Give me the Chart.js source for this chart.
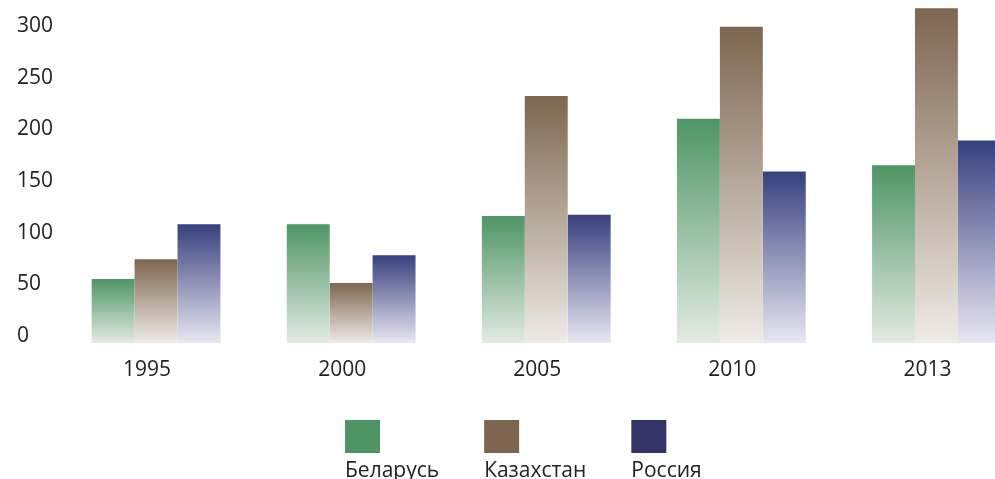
<!DOCTYPE html>
<html>
<head>
<meta charset="utf-8">
<script src="https://cdn.jsdelivr.net/npm/chart.js@4/dist/chart.umd.min.js"></script>
<style>
  html, body { margin: 0; padding: 0; background: #fff; overflow: hidden; }
  #wrap { position: relative; width: 1040px; height: 479px; }
</style>
</head>
<body>
<div id="wrap"><canvas id="c"></canvas></div>
<script>
const categories = ['1995', '2000', '2005', '2010', '2013'];
const seriesNames = ['Беларусь', 'Казахстан', 'Россия'];
const belarus = [62, 115, 123, 217, 172];
const kazakhstan = [81, 58, 239, 306, 324];
const russia = [115, 85, 124, 166, 196];
const yTicks = [0, 50, 100, 150, 200, 250, 300];

const topColors = ['#4f9565', '#7e6650', '#37407e'];
const bottomColors = ['#e3ebe3', '#efebe7', '#e9e7f3'];
const legendColors = ['#4e9465', '#7e664e', '#333366'];
const FONT = '"Open Sans", "Noto Sans", sans-serif';

function gradientFor(i) {
  return function (ctx) {
    const chart = ctx.chart;
    if (!chart.chartArea || ctx.type !== 'data') return topColors[i];
    const y = chart.scales.y;
    const v = ctx.raw;
    const top = y.getPixelForValue(v);
    const base = y.getPixelForValue(0);
    if (!isFinite(top) || !isFinite(base) || base - top < 1) return topColors[i];
    const g = chart.ctx.createLinearGradient(0, top, 0, base);
    g.addColorStop(0, topColors[i]);
    g.addColorStop(1, bottomColors[i]);
    return g;
  };
}

const legendPlugin = {
  id: 'boxAboveLegend',
  afterDraw(chart) {
    const c = chart.ctx;
    const base = chart.chartArea.bottom;
    c.save();
    c.font = '21px ' + FONT;
    c.textBaseline = 'alphabetic';
    c.textAlign = 'left';
    let x = 345;
    chart.data.datasets.forEach((ds, i) => {
      c.fillStyle = legendColors[i];
      c.fillRect(x, base + 77, 35, 33);
      c.fillStyle = '#222222';
      c.fillText(ds.label, x, base + 134);
      const w = Math.max(35, c.measureText(ds.label).width);
      x += w + 45;
    });
    c.restore();
  }
};

new Chart(document.getElementById('c'), {
  type: 'bar',
  data: {
    labels: categories,
    datasets: [
      { label: seriesNames[0], data: belarus, backgroundColor: gradientFor(0) },
      { label: seriesNames[1], data: kazakhstan, backgroundColor: gradientFor(1) },
      { label: seriesNames[2], data: russia, backgroundColor: gradientFor(2) }
    ]
  },
  options: {
    responsive: true,
    maintainAspectRatio: false,
    animation: false,
    layout: { padding: { left: 17, right: 6, top: 2, bottom: 0 } },
    datasets: { bar: { categoryPercentage: 0.66, barPercentage: 1.0, borderWidth: 0 } },
    plugins: { legend: { display: false }, tooltip: { enabled: false } },
    scales: {
      x: {
        offset: true,
        grid: { display: false, drawTicks: false },
        border: { display: false },
        ticks: { color: '#222222', font: { family: FONT, size: 21 }, padding: 14, labelOffset: -9, maxRotation: 0 },
        afterFit(axis) { axis.height = 136; axis.paddingLeft = 0; axis.paddingRight = 0; }
      },
      y: {
        min: 0,
        max: 330,
        grid: { display: false, drawTicks: false },
        border: { display: false },
        ticks: { color: '#222222', font: { family: FONT, size: 21 }, crossAlign: 'far', labelOffset: -7, padding: 3 },
        afterBuildTicks(axis) { axis.ticks = yTicks.map(v => ({ value: v })); },
        afterFit(axis) { axis.width = 41.5; axis.paddingTop = 0; axis.paddingBottom = 0; }
      }
    }
  },
  plugins: [legendPlugin]
});
</script>
</body>
</html>
